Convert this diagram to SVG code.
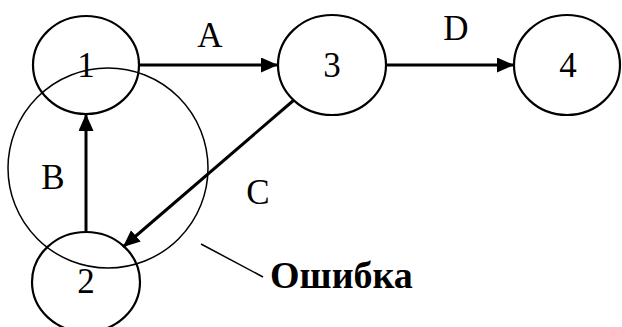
<svg xmlns="http://www.w3.org/2000/svg" width="622" height="327" viewBox="0 0 622 327">
<style>
.node{fill:none;stroke:#000;stroke-width:2.2}
.t{font-family:"Liberation Serif","Times New Roman",serif;font-size:35px;fill:#000;text-anchor:middle}
.edge{stroke:#000;stroke-width:3;fill:none}
.thin{stroke:#000;stroke-width:1.5;fill:none}
</style>
<defs>
<marker id="ah" markerUnits="userSpaceOnUse" markerWidth="18" markerHeight="16" refX="17" refY="7.5" orient="auto">
<path d="M0,0 L17,7.5 L0,15 Z" fill="#000"/>
</marker>
</defs>
<rect width="622" height="327" fill="#fff"/>
<g id="error-circle">
<circle class="thin" cx="108" cy="168" r="100"/>
</g>
<g id="node1"><ellipse class="node" cx="86" cy="65" rx="53" ry="49"/><text class="t" x="86" y="77">1</text></g>
<g id="node2"><ellipse class="node" cx="86" cy="282" rx="54" ry="50"/><text class="t" x="86" y="293">2</text></g>
<g id="node3"><ellipse class="node" cx="332" cy="65" rx="54" ry="50"/><text class="t" x="332" y="77">3</text></g>
<g id="node4"><ellipse class="node" cx="567" cy="65" rx="53" ry="50"/><text class="t" x="568" y="77">4</text></g>
<g id="connectors">
<line class="edge" x1="140" y1="65" x2="278" y2="65" marker-end="url(#ah)"/>
<line class="edge" x1="387" y1="65" x2="514" y2="65" marker-end="url(#ah)"/>
<line class="edge" x1="86" y1="232" x2="86" y2="114" marker-end="url(#ah)"/>
<line class="edge" x1="294" y1="100" x2="123" y2="247" marker-end="url(#ah)"/>
<line class="thin" x1="201" y1="244" x2="263" y2="277"/>
</g>
<g id="labels">
<text class="t" x="210" y="47">A</text>
<text class="t" x="456" y="40">D</text>
<text class="t" x="53" y="189">B</text>
<text class="t" x="258" y="204">C</text>
<text x="270" y="288" style="font-family:'Liberation Serif','Times New Roman',serif;font-size:38px;font-weight:bold;fill:#000">Ошибка</text>
</g>
</svg>
